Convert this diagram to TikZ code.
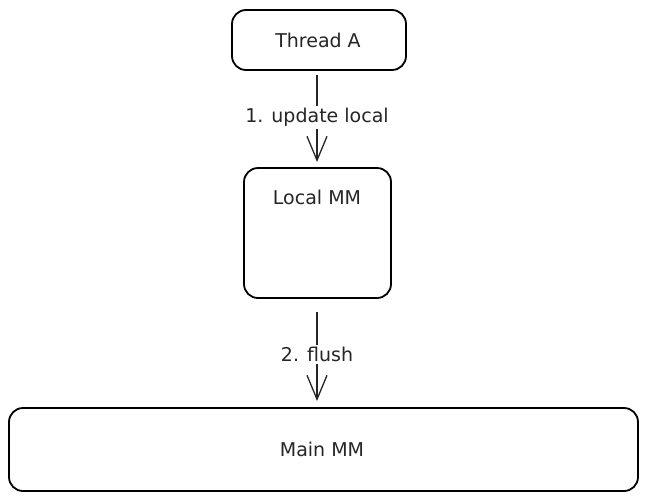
\documentclass[tikz,border=0pt]{standalone}
\usepackage{fontspec}
\setmainfont{DejaVu Sans}
\usetikzlibrary{arrows.meta}
\begin{document}
\begin{tikzpicture}[x=1pt,y=-1pt,
  box/.style={draw=black, line width=1.8pt, rounded corners=14pt, fill=white},
  lbl/.style={font=\fontsize{19}{21}\selectfont, text=black!85},
  conn/.style={draw=black!85, line width=1.3pt, -{Straight Barb[length=24pt,width=20pt,line width=1.3pt]}},
  edgelbl/.style={fill=white, inner sep=2pt, font=\fontsize{19}{21}\selectfont, text=black!85}
]
\useasboundingbox[fill=white] (0,0) rectangle (650,501);
\draw[box] (232,10) rectangle (406,70);
\node[lbl] (ta) at (318,40) {Thread A};
\coordinate (taB) at (317,75);
\draw[box] (244,168) rectangle (391,298);
\node[lbl] (lm) at (317,197) {Local MM};
\coordinate (lmT) at (317,162);
\coordinate (lmB) at (317,312);
\draw[box] (9,408) rectangle (638,491);
\node[lbl] (mm) at (322,449) {Main MM};
\coordinate (mmT) at (317,401);
\draw[conn] (taB) -- node[edgelbl, pos=0.49] (l1) {1. update local} (lmT);
\draw[conn] (lmB) -- node[edgelbl, pos=0.48] (l2) {2. flush} (mmT);
\end{tikzpicture}
\end{document}
